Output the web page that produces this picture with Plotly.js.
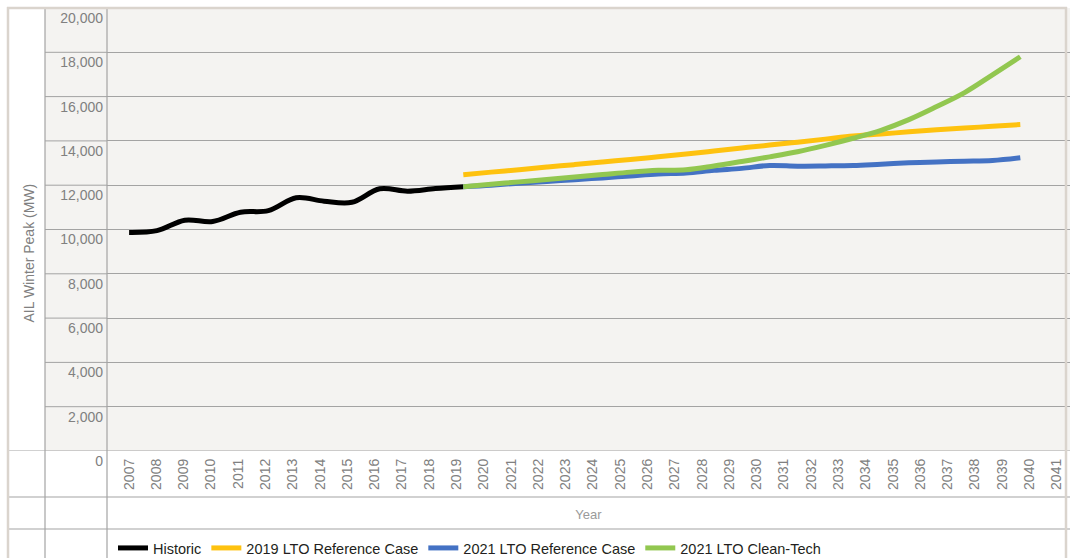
<!DOCTYPE html>
<html>
<head>
<meta charset="utf-8">
<script src="https://cdn.plot.ly/plotly-3.0.1.min.js"></script>
<style>html,body{margin:0;padding:0;background:#fff;}#chart{width:1070px;height:558px;}</style>
</head>
<body>
<div id="chart"></div>
<script>
// ---- data ----
const yearLabels = ["2007","2008","2009","2010","2011","2012","2013","2014","2015","2016","2017","2018","2019","2020","2021","2022","2023","2024","2025","2026","2027","2028","2029","2030","2031","2032","2033","2034","2035","2036","2037","2038","2039","2040","2041"];
const yTicks = [0, 2000, 4000, 6000, 8000, 10000, 12000, 14000, 16000, 18000, 20000];

const histYears = [2007, 2008, 2009, 2010, 2011, 2012, 2013, 2014, 2015, 2016, 2017, 2018, 2019];
const historic = [9870, 9950, 10420, 10360, 10780, 10850, 11430, 11280, 11230, 11840, 11730, 11850, 11930];

const projYears = [2019, 2020, 2021, 2022, 2023, 2024, 2025, 2026, 2027, 2028, 2029, 2030, 2031, 2032, 2033, 2034, 2035, 2036, 2037, 2038, 2039];
const lto2019Ref = [12470, 12590, 12700, 12820, 12930, 13050, 13160, 13280, 13410, 13540, 13680, 13810, 13940, 14080, 14220, 14310, 14410, 14505, 14580, 14660, 14740];
const lto2021Ref = [11930, 12000, 12090, 12170, 12250, 12330, 12420, 12510, 12550, 12670, 12760, 12890, 12860, 12870, 12890, 12950, 13010, 13050, 13080, 13115, 13240];
const lto2021Clean = [11930, 12040, 12150, 12260, 12370, 12480, 12590, 12670, 12700, 12870, 13070, 13280, 13510, 13800, 14120, 14480, 14960, 15550, 16180, 16980, 17800];

const seriesNames = ["Historic", "2019 LTO Reference Case", "2021 LTO Reference Case", "2021 LTO Clean-Tech"];
const seriesColors = ["#000000", "#FEC20F", "#4472C4", "#92C750"];

// ---- geometry helpers (pixels -> paper) ----
const W = 1070, H = 558;
const mL = 107, mR = 0, mT = 8, mB = 107;
const pw = W - mL - mR, ph = H - mT - mB;
const px = p => (p - mL) / pw;
const py = p => (H - mB - p) / ph;

const gridCol = "#A3A3A3";
const borderCol = "#DAD4CD";
const FONT = "Liberation Sans, Arial, Helvetica, sans-serif";

function lineTrace(x, y, i) {
  return {
    type: "scatter", mode: "lines", x: x, y: y, xaxis: "x2", yaxis: "y",
    name: seriesNames[i],
    line: {color: seriesColors[i], width: 5, shape: "spline", smoothing: 1},
    hoverinfo: "x+y+name"
  };
}

const data = [
  // empty carrier so the labelled year axis is drawn
  {type: "scatter", mode: "lines", x: yearLabels.map(Number), y: yearLabels.map(() => null),
   xaxis: "x", yaxis: "y", showlegend: false, hoverinfo: "skip"},
  lineTrace(histYears, historic, 0),
  lineTrace(projYears, lto2019Ref, 1),
  lineTrace(projYears, lto2021Ref, 2),
  lineTrace(projYears, lto2021Clean, 3)
];

const shapes = [];
// tick-label column background
shapes.push({type: "rect", xref: "paper", yref: "paper", x0: px(45), x1: 0, y0: 0, y1: 1,
  fillcolor: "#F4F3F1", line: {width: 0}, layer: "below"});
// grid extensions into the label column
yTicks.forEach(v => {
  if (v === 0) return;
  shapes.push({type: "line", xref: "paper", yref: "y", x0: px(45), x1: 0, y0: v, y1: v,
    line: {color: gridCol, width: 1}});
});
// horizontal table lines (zero line and rows below)
shapes.push({type: "line", xref: "paper", yref: "y", x0: px(8), x1: 1, y0: 0, y1: 0, line: {color: gridCol, width: 1.2}});
[497, 529].forEach(p => shapes.push({type: "line", xref: "paper", yref: "paper", x0: px(8), x1: 1, y0: py(p), y1: py(p), line: {color: gridCol, width: 1.2}}));
// vertical table lines
[45, 107].forEach(p => shapes.push({type: "line", xref: "paper", yref: "paper", x0: px(p), x1: px(p), y0: py(H), y1: 1, line: {color: gridCol, width: 1.2}}));
// outer beige frame
shapes.push({type: "line", xref: "paper", yref: "paper", x0: px(8), x1: px(8), y0: py(H), y1: py(7), line: {color: borderCol, width: 2.5}});
shapes.push({type: "line", xref: "paper", yref: "paper", x0: px(7), x1: px(1067), y0: py(8), y1: py(8), line: {color: borderCol, width: 2.5}});
shapes.push({type: "line", xref: "paper", yref: "paper", x0: px(1066), x1: px(1066), y0: py(H), y1: py(7), line: {color: borderCol, width: 2.5}});

const layout = {
  width: W, height: H,
  margin: {l: mL, r: mR, t: mT, b: mB, pad: 0, autoexpand: false},
  paper_bgcolor: "#FFFFFF",
  plot_bgcolor: "#F4F3F1",
  font: {family: FONT, size: 14, color: "#808080"},
  showlegend: true,
  legend: {
    orientation: "h", x: px(113), xanchor: "left", y: py(548), yanchor: "middle",
    font: {family: FONT, size: 14.5, color: "#231F20"},
    bgcolor: "rgba(0,0,0,0)", itemwidth: 30, traceorder: "normal"
  },
  xaxis: {
    range: [2007 - 22 / 27.285, 2007 + 941 / 27.285],
    tickmode: "array",
    tickvals: yearLabels.map(Number),
    ticktext: yearLabels,
    tickangle: -90,
    ticks: "", showgrid: false, zeroline: false, showline: false,
    tickfont: {family: FONT, size: 14, color: "#808080"},
    ticklabelstandoff: 4,
    automargin: false,
    title: {text: "Year", font: {family: FONT, size: 13, color: "#9A9A9A"}, standoff: 20},
    fixedrange: true
  },
  xaxis2: {
    overlaying: "x", anchor: "y", visible: false, automargin: false,
    range: [2007 - 22.1 / 27.85, 2007 + 940.9 / 27.85],
    fixedrange: true
  },
  yaxis: {
    range: [0, 20000],
    tickmode: "array", tickvals: yTicks, tickformat: ",",
    ticks: "", showgrid: true, gridcolor: gridCol, gridwidth: 1,
    zeroline: false, showline: false, automargin: false,
    tickfont: {family: FONT, size: 14, color: "#808080"},
    ticklabelshift: 10, ticklabelstandoff: 3,
    fixedrange: true
  },
  shapes: shapes,
  annotations: [{
    text: "AIL Winter Peak (MW)", textangle: -90, showarrow: false,
    xref: "paper", yref: "paper", x: px(28.5), y: py(253), xanchor: "center", yanchor: "middle",
    font: {family: FONT, size: 14, color: "#808080"}
  }]
};

Plotly.newPlot("chart", data, layout, {displayModeBar: false, staticPlot: true});
</script>
</body>
</html>
